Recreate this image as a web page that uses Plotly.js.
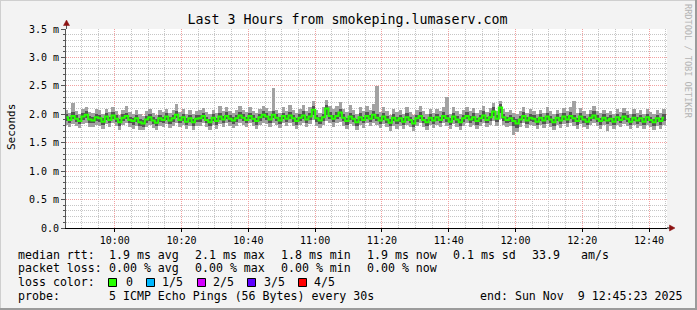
<!DOCTYPE html>
<html>
<head>
<meta charset="utf-8">
<script src="https://cdn.plot.ly/plotly-3.0.1.min.js"></script>
<style>html,body{margin:0;padding:0;background:#f3f3f3;}#chart{width:697px;height:310px;}</style>
</head>
<body>
<div id="chart"></div>
<script>
// ---- time base (one sample per minute) ----
const startTime = '2025-11-09 09:45:30';
const stepSeconds = 60;
const rangeStart = '2025-11-09 09:45:23';
const rangeEnd = '2025-11-09 12:45:23';

// ---- median rtt (ms) ----
const median = [
1.95,1.90,1.97,1.92,1.88,1.96,1.99,1.91,1.89,1.95,
1.93,1.87,1.96,1.90,1.98,1.92,1.86,1.94,1.97,1.90,
1.88,1.93,1.86,1.84,1.91,1.95,1.89,1.85,1.93,1.90,
1.96,1.89,1.93,1.99,1.90,1.95,1.87,1.93,1.86,1.92,
1.93,1.97,1.90,1.86,1.94,1.88,1.96,1.91,1.97,1.92,
1.89,1.93,1.98,1.94,1.90,1.97,1.92,1.88,1.95,1.99,
1.96,1.91,1.99,1.94,1.89,1.97,1.92,1.98,1.93,1.88,
1.94,1.98,1.91,1.96,2.08,1.93,1.89,1.95,2.10,1.97,
1.92,1.97,2.03,1.94,1.88,1.96,1.92,1.86,1.95,1.90,
1.97,1.92,1.99,1.94,1.89,1.96,1.91,1.85,1.94,1.89,
1.93,1.87,1.95,1.90,1.84,1.93,1.97,1.90,1.86,1.94,
1.89,1.95,1.90,1.97,1.93,1.87,1.96,1.91,1.86,1.93,
1.97,1.91,1.95,1.88,1.93,1.98,1.90,1.95,2.05,1.92,
2.12,1.95,1.90,1.93,1.88,1.84,1.91,1.97,1.89,1.94,
1.92,1.87,1.94,1.89,1.96,1.91,1.86,1.94,1.89,1.96,
1.91,1.97,1.93,1.88,1.96,1.91,1.87,1.94,1.98,1.92,
1.88,1.94,1.89,1.92,1.87,1.95,1.90,1.96,1.92,1.87,
1.94,1.89,1.93,1.87,1.95,1.90,1.86,1.93,1.88,1.94];

// ---- smoke: sorted pings 1,2,4,5 (ms) ----
const ping1 = [
1.82,1.78,1.83,1.79,1.76,1.83,1.85,1.78,1.77,1.82,
1.80,1.75,1.83,1.77,1.85,1.79,1.73,1.81,1.84,1.77,
1.75,1.80,1.73,1.72,1.78,1.82,1.76,1.72,1.80,1.77,
1.83,1.76,1.80,1.85,1.77,1.82,1.74,1.80,1.73,1.79,
1.80,1.84,1.77,1.73,1.81,1.75,1.83,1.78,1.84,1.79,
1.76,1.80,1.85,1.81,1.77,1.84,1.79,1.75,1.82,1.85,
1.83,1.78,1.85,1.81,1.76,1.84,1.79,1.85,1.80,1.75,
1.81,1.84,1.78,1.83,1.90,1.80,1.76,1.82,1.89,1.84,
1.78,1.84,1.87,1.80,1.74,1.83,1.79,1.72,1.82,1.76,
1.84,1.79,1.84,1.81,1.76,1.83,1.78,1.71,1.80,1.75,
1.80,1.74,1.82,1.77,1.71,1.80,1.84,1.77,1.73,1.81,
1.76,1.82,1.77,1.84,1.80,1.74,1.83,1.78,1.73,1.80,
1.84,1.78,1.82,1.75,1.80,1.85,1.77,1.82,1.89,1.79,
1.92,1.82,1.77,1.80,1.64,1.68,1.78,1.84,1.76,1.81,
1.79,1.74,1.81,1.76,1.83,1.78,1.73,1.81,1.76,1.83,
1.78,1.84,1.80,1.75,1.83,1.78,1.74,1.81,1.85,1.79,
1.75,1.81,1.71,1.79,1.74,1.82,1.77,1.83,1.79,1.74,
1.81,1.76,1.80,1.74,1.82,1.77,1.73,1.80,1.75,1.81];
const ping2 = [
1.89,1.85,1.91,1.86,1.83,1.90,1.93,1.85,1.84,1.89,
1.87,1.82,1.90,1.84,1.92,1.86,1.80,1.88,1.91,1.84,
1.82,1.87,1.80,1.78,1.85,1.89,1.83,1.79,1.87,1.84,
1.90,1.83,1.87,1.93,1.84,1.89,1.81,1.87,1.80,1.86,
1.87,1.91,1.84,1.80,1.88,1.82,1.90,1.85,1.91,1.86,
1.83,1.87,1.92,1.88,1.84,1.91,1.86,1.82,1.89,1.93,
1.90,1.85,1.93,1.88,1.83,1.91,1.86,1.92,1.87,1.82,
1.88,1.92,1.85,1.90,1.99,1.87,1.83,1.89,1.99,1.91,
1.86,1.91,1.95,1.88,1.82,1.90,1.86,1.80,1.89,1.84,
1.91,1.86,1.92,1.88,1.83,1.90,1.85,1.79,1.88,1.83,
1.87,1.81,1.89,1.84,1.78,1.87,1.91,1.84,1.80,1.88,
1.83,1.89,1.84,1.91,1.87,1.81,1.90,1.85,1.80,1.87,
1.91,1.85,1.89,1.82,1.87,1.92,1.84,1.89,1.97,1.86,
2.03,1.89,1.84,1.87,1.80,1.76,1.85,1.91,1.83,1.88,
1.86,1.81,1.88,1.83,1.90,1.85,1.80,1.88,1.83,1.90,
1.85,1.91,1.87,1.82,1.90,1.85,1.81,1.88,1.92,1.86,
1.82,1.88,1.83,1.86,1.81,1.89,1.84,1.90,1.86,1.81,
1.88,1.83,1.87,1.81,1.89,1.84,1.80,1.87,1.82,1.88];
const ping4 = [
2.01,1.96,2.04,1.98,1.94,2.02,2.05,1.97,1.95,2.01,
1.99,1.93,2.02,1.96,2.04,1.98,1.92,2.00,2.03,1.96,
1.94,1.99,1.92,1.90,1.97,2.01,1.95,1.91,1.99,1.96,
2.02,1.95,1.99,2.05,1.96,2.01,1.93,1.99,1.92,1.98,
1.99,2.03,1.96,1.92,2.00,1.94,2.02,1.97,2.04,1.98,
1.95,1.99,2.04,2.00,1.96,2.03,1.98,1.94,2.01,2.05,
2.02,1.97,2.06,2.00,1.95,2.03,1.98,2.04,1.99,1.94,
2.00,2.05,1.97,2.02,2.15,1.99,1.95,2.01,2.16,2.04,
1.99,2.04,2.10,2.00,1.94,2.03,1.98,1.92,2.02,1.96,
2.04,1.98,2.06,2.00,1.95,2.02,1.97,1.91,2.00,1.95,
1.99,1.93,2.02,1.96,1.90,1.99,2.04,1.96,1.92,2.00,
1.95,2.01,1.96,2.04,1.99,1.93,2.02,1.97,1.92,1.99,
2.04,1.97,2.02,1.94,1.99,2.05,1.96,2.02,2.12,1.98,
2.18,2.01,1.96,1.99,1.95,1.92,1.97,2.04,1.95,2.00,
1.98,1.93,2.00,1.95,2.03,1.97,1.92,2.00,1.95,2.03,
1.97,2.04,1.99,1.94,2.02,1.97,1.93,2.00,2.05,1.98,
1.94,2.00,1.95,1.98,1.93,2.01,1.96,2.03,1.98,1.93,
2.00,1.95,1.99,1.93,2.01,1.96,1.92,1.99,1.94,2.00];
const ping5 = [
2.08,2.03,2.19,2.06,2.01,2.09,2.13,2.04,2.02,2.10,
2.07,2.00,2.10,2.04,2.13,2.06,1.99,2.08,2.15,2.04,
2.01,2.07,2.00,1.97,2.05,2.10,2.03,1.98,2.07,2.04,
2.10,2.03,2.08,2.18,2.04,2.10,2.01,2.07,2.00,2.06,
2.07,2.11,2.04,2.00,2.08,2.02,2.14,2.05,2.12,2.06,
2.03,2.07,2.15,2.08,2.04,2.12,2.06,2.02,2.10,2.14,
2.11,2.05,2.47,2.08,2.03,2.13,2.06,2.16,2.07,2.02,
2.09,2.16,2.05,2.12,2.23,2.08,2.03,2.13,2.25,2.14,
2.10,2.15,2.21,2.10,2.04,2.16,2.08,2.01,2.12,2.06,
2.14,2.07,2.18,2.49,2.04,2.12,2.06,1.99,2.09,2.04,
2.07,2.01,2.12,2.04,1.98,2.08,2.14,2.05,2.00,2.09,
2.03,2.10,2.05,2.13,2.31,2.01,2.12,2.06,2.00,2.08,
2.13,2.05,2.11,2.02,2.08,2.14,2.04,2.11,2.19,2.06,
2.23,2.10,2.04,2.08,2.03,2.00,2.05,2.13,2.03,2.09,
2.06,2.01,2.08,2.03,2.12,2.05,2.00,2.08,2.03,2.11,
2.05,2.13,2.23,2.02,2.11,2.05,2.01,2.08,2.14,2.06,
2.02,2.08,2.03,2.06,2.01,2.10,2.04,2.11,2.06,2.01,
2.09,2.03,2.07,2.01,2.10,2.04,2.00,2.07,2.02,2.09];

// ---- axis ticks ----
const yTickVals = [0, 0.5, 1.0, 1.5, 2.0, 2.5, 3.0, 3.5];
const yTickText = ['0.0', '0.5 m', '1.0 m', '1.5 m', '2.0 m', '2.5 m', '3.0 m', '3.5 m'];

// ---- texts ----
const titleText = 'Last 3 Hours from smokeping.lumaserv.com';
const rttLabels = ['median rtt:', '1.9 ms avg', '2.1 ms max', '1.8 ms min', '1.9 ms now', '0.1 ms sd', '33.9', 'am/s'];
const lossLabels = ['packet loss:', '0.00 % avg', '0.00 % max', '0.00 % min', '0.00 % now'];
const lossColorNames = ['0', '1/5', '2/5', '3/5', '4/5'];
const lossColors = ['#26ff00', '#00b8ff', '#d400ff', '#5e00ff', '#ff0000'];
const probeText = ['probe:', '5 ICMP Echo Pings (56 Bytes) every 30s', 'end: Sun Nov  9 12:45:23 2025'];

// ---- build times ----
const t0 = new Date(startTime.replace(' ', 'T') + 'Z').getTime();
function fmt(ms) {
  const d = new Date(ms);
  const p = n => String(n).padStart(2, '0');
  return d.getUTCFullYear() + '-' + p(d.getUTCMonth() + 1) + '-' + p(d.getUTCDate()) + ' ' +
    p(d.getUTCHours()) + ':' + p(d.getUTCMinutes()) + ':' + p(d.getUTCSeconds());
}
const times = median.map((_, i) => fmt(t0 + i * stepSeconds * 1000));
const barW = stepSeconds * 1000;

const traces = [
  { type: 'bar', x: times, base: ping1, y: ping5.map((v, i) => v - ping1[i]), width: barW,
    marker: { color: '#a2a2a2', line: { width: 0 } }, hoverinfo: 'skip' },
  { type: 'bar', x: times, base: ping2, y: ping4.map((v, i) => v - ping2[i]), width: barW,
    marker: { color: '#555555', line: { width: 0 } }, hoverinfo: 'skip' },
  { type: 'scatter', mode: 'lines', x: times, y: median,
    line: { color: lossColors[0], width: 2, shape: 'hvh' }, hoverinfo: 'skip' }
];

// ---- pixel helpers ----
const W = 697, H = 310, PL = 66, PR = 667, PT = 29, PB = 228;
const fx = p => (p - PL) / (PR - PL);
const fy = p => (PB - p) / (PB - PT);
const MONO = 'DejaVu Sans Mono';

const annotations = [];
function txt(text, px, py, size, opts) {
  annotations.push(Object.assign({
    text: text, xref: 'paper', yref: 'paper', x: fx(px), y: fy(py),
    xanchor: 'left', yanchor: 'middle', showarrow: false,
    font: { family: MONO, size: size, color: '#000' }
  }, opts || {}));
}

// y axis title
txt('Seconds', 11, 127, 11, { xanchor: 'center', textangle: -90 });
// watermark
txt('RRDTOOL / TOBI OETIKER', 688, 61, 8.6, { xanchor: 'center', textangle: 90, font: { family: MONO, size: 8.6, color: '#b4b4b4' } });

const LF = 11.6;
const row1X = [16, 107, 193, 279, 365, 451, 530, 579];
rttLabels.forEach((s, i) => txt(s, row1X[i], 254.5, LF));
const row2X = [16, 107, 193, 279, 365];
lossLabels.forEach((s, i) => txt(s, row2X[i], 268.3, LF));
txt('loss color:', 16, 282.3, LF);
const sqX = [108, 146, 197, 247, 298];
const lblX = [124, 160, 211, 262, 312];
const shapes = [];
lossColorNames.forEach((s, i) => {
  txt(s, lblX[i], 282.3, LF);
  shapes.push({ type: 'rect', xref: 'paper', yref: 'paper',
    x0: fx(sqX[i] + 0.5), x1: fx(sqX[i] + 8.5), y0: fy(278.5), y1: fy(286.5),
    fillcolor: lossColors[i], line: { color: '#000', width: 1 } });
});
txt(probeText[0], 16, 296, LF);
txt(probeText[1], 107, 296, LF);
txt(probeText[2], 478, 296, LF);

// axis arrows and extensions
shapes.push({ type: 'line', xref: 'paper', yref: 'paper', x0: fx(66.5), x1: fx(66.5), y0: fy(PT), y1: fy(23), line: { color: '#555', width: 1 } });
shapes.push({ type: 'line', xref: 'paper', yref: 'paper', x0: fx(PR), x1: fx(671), y0: fy(228), y1: fy(228), line: { color: '#000', width: 1 } });
shapes.push({ type: 'path', xref: 'paper', yref: 'paper',
  path: 'M ' + fx(63.5) + ' ' + fy(25.5) + ' L ' + fx(69.5) + ' ' + fy(25.5) + ' L ' + fx(66.5) + ' ' + fy(20) + ' Z',
  fillcolor: '#8b1010', line: { color: '#8b1010', width: 0.5 } });
shapes.push({ type: 'path', xref: 'paper', yref: 'paper',
  path: 'M ' + fx(669.5) + ' ' + fy(225) + ' L ' + fx(669.5) + ' ' + fy(231) + ' L ' + fx(675) + ' ' + fy(228) + ' Z',
  fillcolor: '#8b1010', line: { color: '#8b1010', width: 0.5 } });
// frame
shapes.push({ type: 'line', xref: 'paper', yref: 'paper', x0: fx(0), x1: fx(697), y0: fy(0.5), y1: fy(0.5), line: { color: '#cfcfcf', width: 1 } });
shapes.push({ type: 'line', xref: 'paper', yref: 'paper', x0: fx(0.5), x1: fx(0.5), y0: fy(0), y1: fy(310), line: { color: '#cfcfcf', width: 1 } });
shapes.push({ type: 'line', xref: 'paper', yref: 'paper', x0: fx(0), x1: fx(697), y0: fy(309), y1: fy(309), line: { color: '#9b9b9b', width: 2 } });
shapes.push({ type: 'line', xref: 'paper', yref: 'paper', x0: fx(696), x1: fx(696), y0: fy(0), y1: fy(310), line: { color: '#9b9b9b', width: 2 } });

const majorGrid = '#f2a0a0', minorGrid = '#c6c6c6', DOTS = '1px,1px';

const layout = {
  width: W, height: H,
  margin: { l: PL, r: W - PR, t: PT, b: H - PB, pad: 0 },
  paper_bgcolor: '#f3f3f3', plot_bgcolor: '#ffffff',
  showlegend: false, barmode: 'overlay', bargap: 0,
  font: { family: MONO, color: '#000' },
  title: { text: titleText, font: { family: MONO, size: 13.3, color: '#000' },
    xref: 'container', yref: 'container', x: 347.5 / W, xanchor: 'center', y: 1 - 19.5 / H, yanchor: 'middle' },
  xaxis: {
    type: 'date', range: [rangeStart, rangeEnd],
    tick0: '2025-11-09 10:00:00', dtick: 1200000, tickformat: '%H:%M',
    showgrid: true, gridcolor: majorGrid, gridwidth: 1, griddash: DOTS,
    minor: { tick0: '2025-11-09 10:00:00', dtick: 300000, showgrid: true, gridcolor: minorGrid, griddash: DOTS, gridwidth: 1 },
    showline: true, linecolor: '#000', linewidth: 1,
    ticks: 'outside', ticklen: 3, tickcolor: '#000',
    tickfont: { family: MONO, size: 10, color: '#000' }, zeroline: false, fixedrange: true
  },
  yaxis: {
    range: [0, 3.5], tickmode: 'array', tickvals: yTickVals, ticktext: yTickText,
    showgrid: true, gridcolor: majorGrid, gridwidth: 1, griddash: DOTS,
    minor: { dtick: 0.1, tick0: 0, showgrid: true, gridcolor: minorGrid, griddash: DOTS, gridwidth: 1, ticks: 'outside', ticklen: 2, tickcolor: '#555' },
    showline: true, linecolor: '#555', linewidth: 1,
    ticks: 'outside', ticklen: 4, tickcolor: '#555',
    tickfont: { family: MONO, size: 10, color: '#000' }, zeroline: false, fixedrange: true
  },
  annotations: annotations,
  shapes: shapes
};

Plotly.newPlot('chart', traces, layout, { staticPlot: true, displayModeBar: false });
</script>
</body>
</html>
